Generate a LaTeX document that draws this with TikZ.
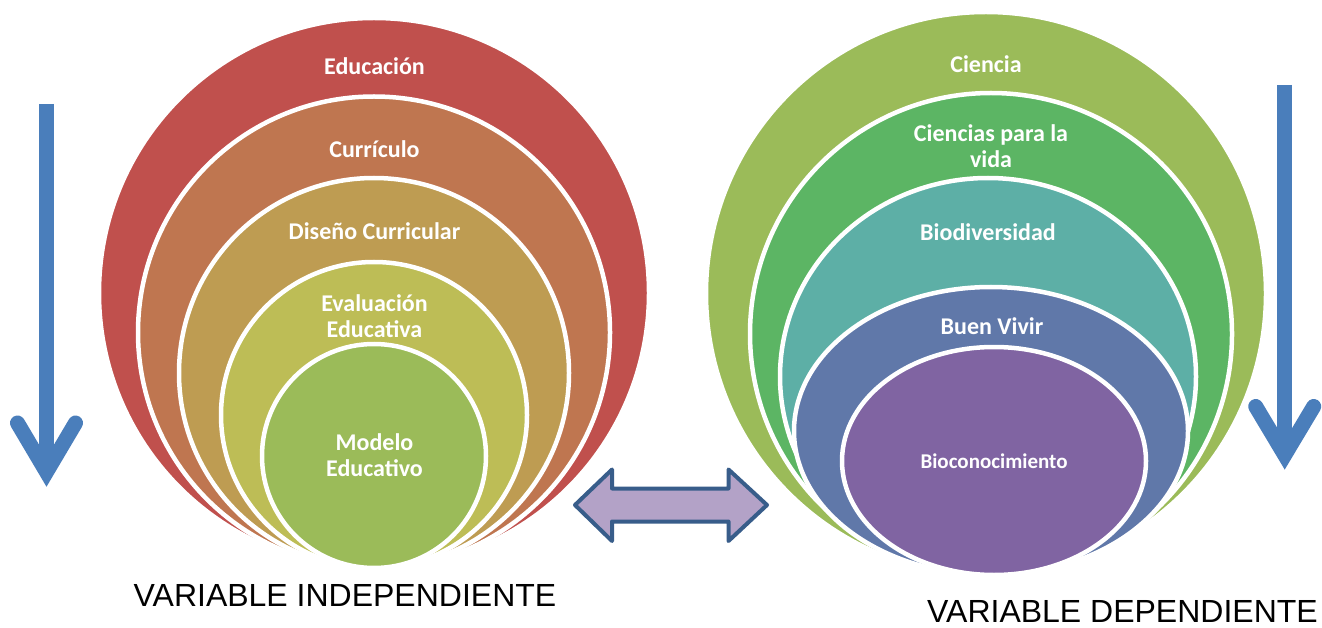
\documentclass[tikz,border=0pt]{standalone}
\usepackage{fontspec}
\setmainfont{Carlito}
\newfontfamily\capfont{Liberation Sans}
\definecolor{cRed}{HTML}{C0504D}
\definecolor{cOrange}{HTML}{BF7650}
\definecolor{cTan}{HTML}{BE9C52}
\definecolor{cYellow}{HTML}{BDBD56}
\definecolor{cGreenA}{HTML}{9BBB59}
\definecolor{cGreenB}{HTML}{5CB564}
\definecolor{cTeal}{HTML}{5DAFA6}
\definecolor{cBlue}{HTML}{6078A9}
\definecolor{cPurple}{HTML}{8064A2}
\definecolor{arrowblue}{HTML}{4A7EBB}
\definecolor{lav}{HTML}{B3A2C7}
\definecolor{darkblue}{HTML}{385D8A}
\begin{document}
\begin{tikzpicture}[x=1pt,y=-1pt,
  ring/.style={fill=#1, draw=white, line width=4.5pt},
  lbl/.style={text=white, font=\fontsize{24}{26}\selectfont\bfseries, align=center, anchor=base, inner sep=0pt},
  smalllbl/.style={lbl, font=\fontsize{21}{24}\selectfont\bfseries},
  caption/.style={font=\capfont\fontsize{32}{36}\selectfont, anchor=base, inner sep=0pt},
  bluearrow/.style={draw=arrowblue, line width=15pt},
  dblarrow/.style={fill=lav, draw=darkblue, line width=4pt, line join=round}]
\useasboundingbox (0,0) rectangle (1322,628);
\fill[white] (0,0) rectangle (1322,628);

% left nested circles
\path[ring=cRed]    (374,293)   circle[radius=275pt];
\path[ring=cOrange] (374,332.5) circle[radius=236pt];
\path[ring=cTan]    (374,373)   circle[radius=195pt];
\path[ring=cYellow] (374,415)   circle[radius=153pt];
\path[ring=cGreenA] (374,456)   circle[radius=112pt];

\node[lbl] (edu) at (374.5,75) {Educación};
\node[lbl] (cur) at (374.5,158) {Currículo};
\node[lbl] (dis) at (374.5,240) {Diseño Curricular};
\node[lbl] (eva) at (374.5,337) {Evaluación\\Educativa};
\node[lbl] (mod) at (374.5,476) {Modelo\\Educativo};

% right nested ellipses
\path[ring=cGreenA] (986,293.5) ellipse[x radius=280pt, y radius=281.5pt];
\path[ring=cGreenB] (991,334)   ellipse[x radius=241pt, y radius=241pt];
\path[ring=cTeal]   (988,376.5) ellipse[x radius=208pt, y radius=198.5pt];
\path[ring=cBlue]   (991,431)   ellipse[x radius=197pt, y radius=144pt];
\path[ring=cPurple] (994,461)   ellipse[x radius=152pt, y radius=114pt];

\node[lbl] (cie) at (986,73) {Ciencia};
\node[lbl] (cpv) at (991,168) {Ciencias para la\\vida};
\node[lbl] (bio) at (988,241) {Biodiversidad};
\node[lbl] (buv) at (992,334) {Buen Vivir};
\node[smalllbl] (bcn) at (994,468) {Bioconocimiento};

% captions
\node[caption] (vi) at (345,606) {VARIABLE INDEPENDIENTE};
\node[caption] (vd) at (1122.5,622) {VARIABLE DEPENDIENTE};

% left blue arrow
\coordinate (la1) at (46.5,104);
\coordinate (la2) at (46.5,472);
\coordinate (law1) at (17.5,423);
\coordinate (law2) at (75.5,423);
\draw[bluearrow] (la1) -- (la2);
\draw[bluearrow, line cap=round, line join=miter] (law1) -- (la2) -- (law2);

% right blue arrow
\coordinate (ra1) at (1284.7,85);
\coordinate (ra2) at (1284.7,455);
\coordinate (raw1) at (1255.7,406.5);
\coordinate (raw2) at (1313.7,406.5);
\draw[bluearrow] (ra1) -- (ra2);
\draw[bluearrow, line cap=round, line join=miter] (raw1) -- (ra2) -- (raw2);

% double arrow
\draw[dblarrow] (575,505) -- (612,469.5) -- (612,488.5) -- (728.5,488.5) -- (728.5,469.5)
  -- (767,505) -- (728.5,541) -- (728.5,521.5) -- (612,521.5) -- (612,541) -- cycle;
\end{tikzpicture}
\end{document}
